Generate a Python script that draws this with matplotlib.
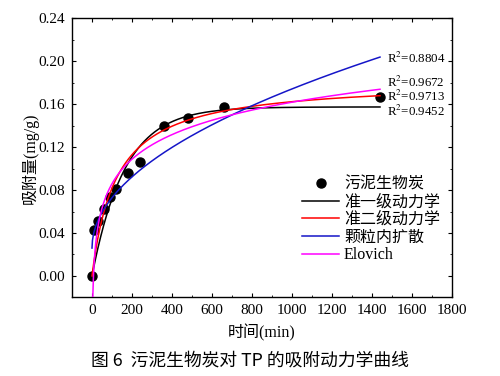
import numpy as np
import matplotlib
matplotlib.use("Agg")
import matplotlib.pyplot as plt
from matplotlib.ticker import MultipleLocator

plt.rcParams['font.family'] = ['Liberation Serif', 'Noto Sans CJK SC']
plt.rcParams['mathtext.fontset'] = 'stix'

# data
t_data = [0, 10, 30, 60, 90, 120, 180, 240, 360, 480, 660, 1440]
q_data = [0.000, 0.043, 0.051, 0.062, 0.074, 0.081, 0.096, 0.106, 0.140, 0.147, 0.157, 0.167]

# fitted model parameters
pfo_qe, pfo_k = 0.1575, 0.0061
pso_qe, pso_h = 0.1823, 0.00816
ipd_kp, ipd_c = 0.00469, 0.026
elo_a, elo_b = -0.066, 0.033

r2_labels = ["R$^2$=0.8804", "R$^2$=0.9672", "R$^2$=0.9713", "R$^2$=0.9452"]
r2_values_y = [0.203, 0.180, 0.167, 0.153]

legend_labels = ["污泥生物炭", "准一级动力学", "准二级动力学", "颗粒内扩散", "Elovich"]

fig = plt.figure(figsize=(5.0, 3.76), dpi=100)
ax = fig.add_axes([0.144, 0.209, 0.760, 0.742])

t = np.linspace(0, 1440, 600)
t_e = np.linspace(1, 1440, 3000)

ax.plot(t_data, q_data, 'o', color='black', markersize=6.5, label=legend_labels[0], zorder=2)
ax.plot(t, pfo_qe * (1 - np.exp(-pfo_k * t)), color='black', lw=1.1, label=legend_labels[1], zorder=3)
ax.plot(t, pso_qe * pso_h * t / (1 + pso_h * t), color='#ff0000', lw=1.1, label=legend_labels[2], zorder=3)
ax.plot(t, ipd_kp * np.sqrt(t) + ipd_c, color='#1515c8', lw=1.1, label=legend_labels[3], zorder=3)
ax.plot(t_e, elo_a + elo_b * np.log(t_e), color='#ff00ff', lw=1.1, label=legend_labels[4], zorder=3)

for lab, yv in zip(r2_labels, r2_values_y):
    ax.text(1475, yv, lab, fontsize=9.3, va='center', ha='left')

ax.set_xlim(-100, 1800)
ax.set_ylim(-0.02, 0.24)
ax.xaxis.set_major_locator(MultipleLocator(200))
ax.xaxis.set_minor_locator(MultipleLocator(100))
ax.yaxis.set_major_locator(MultipleLocator(0.04))
ax.yaxis.set_minor_locator(MultipleLocator(0.02))
ax.yaxis.set_major_formatter(plt.FuncFormatter(lambda v, p: f"{v:.2f}"))
ax.tick_params(which='both', direction='in', top=True, right=True, labelsize=11)
ax.tick_params(which='major', length=3, pad=5)
ax.tick_params(which='minor', length=1.5)
for s in ax.spines.values():
    s.set_linewidth(1.0)

ax.set_xlabel("时间(min)", fontsize=11.5, labelpad=5)
ax.set_ylabel("吸附量(mg/g)", fontsize=11.5, labelpad=0)

leg = ax.legend(loc='lower right', bbox_to_anchor=(0.985, 0.10), frameon=False,
                fontsize=11.5, handlelength=2.3, handletextpad=0.3, labelspacing=0.1,
                borderaxespad=0)

fig.text(0.5, 0.042, "图 6  污泥生物炭对 TP 的吸附动力学曲线", ha='center', va='center',
         fontsize=12.8, fontweight='medium', family=['Noto Sans CJK SC', 'DejaVu Sans'])

fig.savefig("out.png", dpi=100)
